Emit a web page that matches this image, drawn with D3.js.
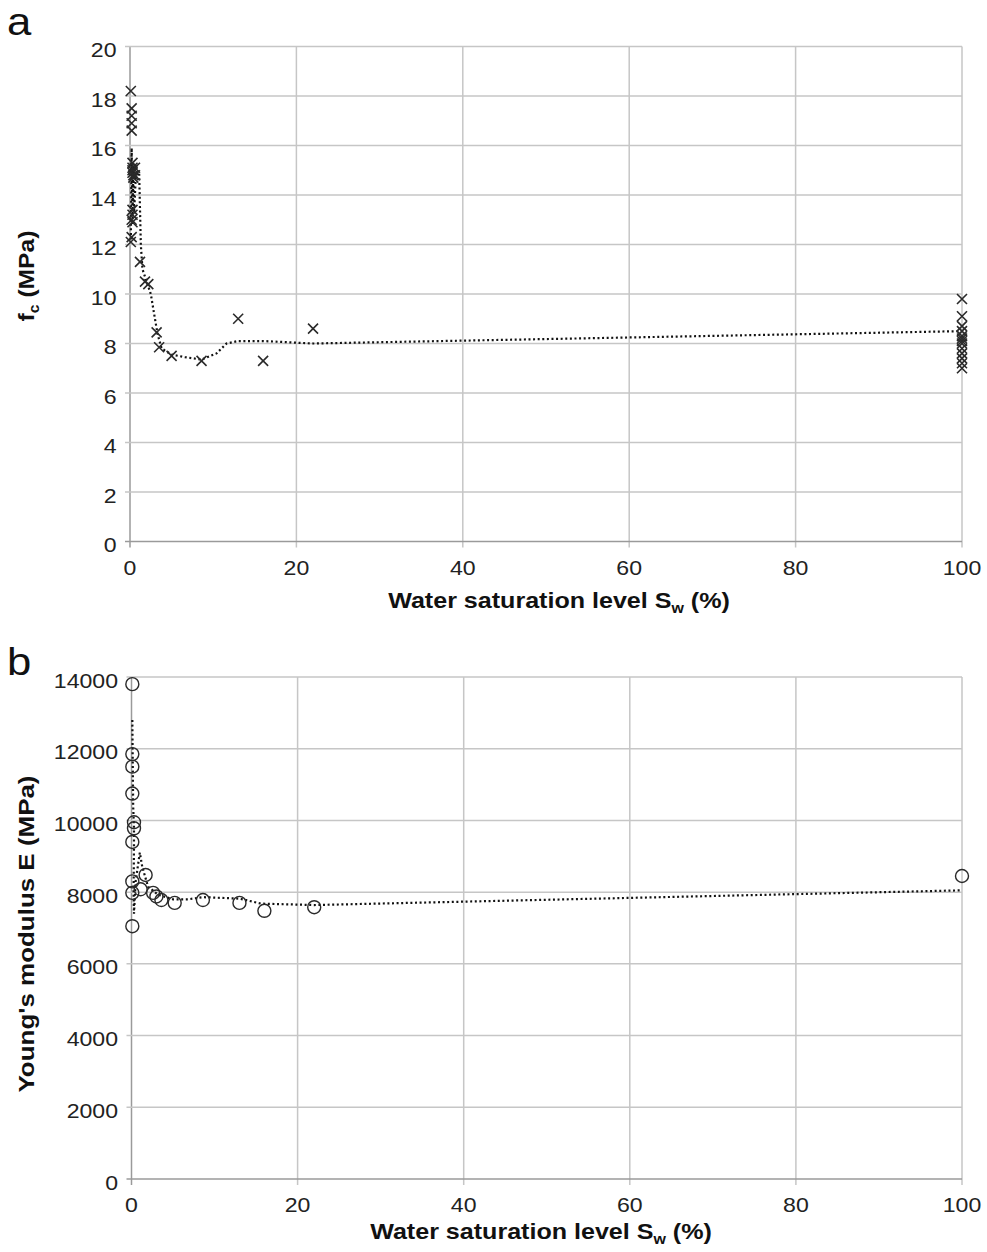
<!DOCTYPE html>
<html><head><meta charset="utf-8">
<script src="https://cdn.jsdelivr.net/npm/d3@7"></script>
<style>
html,body{margin:0;padding:0;background:#fff;}
svg{display:block;font-family:"Liberation Sans",Arial,sans-serif;}
</style></head>
<body>
<svg id="chart" width="987" height="1252"></svg>
<script>
// ---------- Data ----------
const xTicks = [0, 20, 40, 60, 80, 100];
const yTicksA = [0, 2, 4, 6, 8, 10, 12, 14, 16, 18, 20];
const yTicksB = [0, 2000, 4000, 6000, 8000, 10000, 12000, 14000];

// Panel a: compressive strength fc (MPa) vs water saturation Sw (%)
const swA = [0.1, 0.2, 0.2, 0.2, 0.2, 0.3, 0.3, 0.3, 0.3, 0.4, 0.4, 0.6, 0.6, 0.3, 0.3, 0.2, 0.3, 0.2, 0.1,
             1.2, 1.8, 2.2, 3.2, 3.5, 5.0, 8.6, 13.0, 16.0, 22.0,
             100, 100, 100, 100, 100, 100, 100, 100, 100, 100, 100, 100, 100];
const fcA = [18.2, 17.5, 17.2, 16.9, 16.6, 15.3, 15.1, 15.0, 14.9, 14.8, 14.7, 15.1, 14.8, 13.4, 13.2, 13.0, 12.9, 12.3, 12.1,
             11.3, 10.5, 10.4, 8.45, 7.85, 7.5, 7.3, 9.0, 7.3, 8.6,
             9.8, 9.1, 8.7, 8.5, 8.3, 8.2, 8.1, 8.0, 7.8, 7.6, 7.4, 7.2, 7.0];
// Trend line (dotted) of panel a
const trendSwA = [0.1, 0.2, 0.3, 0.4, 0.5, 0.7, 1.1, 1.3, 1.5, 1.9, 2.5, 3.0, 3.3, 3.8, 5.0, 6.6, 8.6, 10.4, 11.6, 13.0, 16.0, 22.0, 100];
const trendFcA = [12.2, 15.9, 12.8, 15.3, 13.3, 14.8, 14.9, 12.0, 11.0, 10.6, 10.0, 9.0, 8.4, 7.8, 7.55, 7.45, 7.35, 7.6, 8.0, 8.1, 8.1, 8.0, 8.5];

// Panel b: Young's modulus E (MPa) vs water saturation Sw (%)
const swB = [0.1, 0.1, 0.1, 0.1, 0.3, 0.3, 0.1, 0.1, 0.1, 0.1, 1.1, 1.7, 2.6, 3.0, 3.6, 5.2, 8.6, 13.0, 16.0, 22.0, 100];
const eB  = [13800, 11850, 11500, 10750, 9950, 9780, 9400, 8300, 7980, 7050, 8080, 8480, 7980, 7880, 7780, 7700, 7780, 7700, 7480, 7580, 8450];
// Trend line (dotted) of panel b
const trendSwB = [0.1, 0.15, 0.2, 0.3, 0.3, 0.25, 0.3, 0.5, 1.0, 1.3, 2.0, 3.2, 5.0, 6.8, 8.6, 13.0, 15.6, 22.0, 100];
const trendEB  = [12800, 11600, 10400, 9800, 9300, 8000, 7400, 8300, 9100, 8700, 8150, 7930, 7800, 7800, 7860, 7820, 7680, 7640, 8050];

// ---------- Drawing ----------
const svg = d3.select("#chart");
const gridColor = "#c6c6c6";
const axisColor = "#9a9a9a";
const tickFont = 21;
const tickStretch = 1.1;
const titleStretch = 1.14;

function panel(cfg) {
  const x = d3.scaleLinear().domain([0, 100]).range([cfg.left, cfg.right]);
  const y = d3.scaleLinear().domain(cfg.yDomain).range([cfg.bottom, cfg.top]);
  const g = svg.append("g");

  // vertical gridlines (with tick below axis)
  g.selectAll(".vg").data(xTicks).enter().append("line")
    .attr("x1", d => x(d)).attr("x2", d => x(d))
    .attr("y1", cfg.top).attr("y2", cfg.bottom + 6)
    .attr("stroke", d => d === 0 ? axisColor : gridColor).attr("stroke-width", 1.5);
  // horizontal gridlines (with tick left of axis)
  g.selectAll(".hg").data(cfg.yTicks).enter().append("line")
    .attr("x1", cfg.left - 5).attr("x2", cfg.right)
    .attr("y1", d => y(d)).attr("y2", d => y(d))
    .attr("stroke", d => d === 0 ? axisColor : gridColor).attr("stroke-width", 1.5);

  // tick labels
  g.selectAll(".yl").data(cfg.yTicks).enter().append("text")
    .attr("transform", d => `translate(${cfg.left - 13.5},${y(d) + 3}) scale(${tickStretch},1)`)
    .attr("dy", "0.36em").attr("text-anchor", "end")
    .attr("font-size", tickFont).attr("fill", "#222")
    .text(d => d);
  g.selectAll(".xl").data(xTicks).enter().append("text")
    .attr("transform", d => `translate(${x(d)},${cfg.bottom + cfg.xTickOff}) scale(${tickStretch},1)`)
    .attr("text-anchor", "middle")
    .attr("font-size", tickFont).attr("fill", "#222")
    .text(d => d);

  // x axis title
  const xt = g.append("text")
    .attr("transform", `translate(${cfg.xTitleX},${cfg.bottom + cfg.xTitleOff}) scale(${titleStretch},1)`)
    .attr("text-anchor", "middle").attr("font-size", 22).attr("font-weight", "bold").attr("fill", "#111");
  xt.append("tspan").text("Water saturation level S");
  xt.append("tspan").attr("font-size", 14).attr("dy", 5).text("w");
  xt.append("tspan").attr("dy", -5).text(" (%)");

  // y axis title
  const yt = g.append("text")
    .attr("transform", `translate(${cfg.yTitleX},${cfg.yTitleY}) rotate(-90) scale(${cfg.yStretch},1)`)
    .attr("text-anchor", "middle").attr("font-size", 22).attr("font-weight", "bold").attr("fill", "#111");
  cfg.yTitle(yt);

  // panel letter
  g.append("text").attr("transform", `translate(7,${cfg.letterY}) scale(1.15,1)`)
    .attr("font-size", 38).attr("fill", "#111").text(cfg.letter);

  // trend line
  const line = d3.line().x(d => x(d[0])).y(d => y(d[1]));
  g.append("path")
    .datum(d3.zip(cfg.tx, cfg.ty))
    .attr("d", line)
    .attr("fill", "none").attr("stroke", "#111")
    .attr("stroke-width", 2.2).attr("stroke-dasharray", "2,2.6");

  return {x, y, g};
}

// Panel a
const pa = panel({
  left: 130, right: 962, top: 46.5, bottom: 541.5,
  yDomain: [0, 20], yTicks: yTicksA, letter: "a", letterY: 35,
  xTickOff: 33.5, xTitleOff: 66, xTitleX: 559,
  yTitleX: 34, yTitleY: 276, yStretch: 1.12,
  tx: trendSwA, ty: trendFcA,
  yTitle: t => {
    t.append("tspan").text("f");
    t.append("tspan").attr("font-size", 14).attr("dy", 5).text("c");
    t.append("tspan").attr("dy", -5).text(" (MPa)");
  }
});
const s = 5;
pa.g.selectAll(".xm").data(d3.zip(swA, fcA)).enter().append("path")
  .attr("d", d => {
    const cx = pa.x(d[0]), cy = pa.y(d[1]);
    return `M${cx - s},${cy - s}L${cx + s},${cy + s}M${cx - s},${cy + s}L${cx + s},${cy - s}`;
  })
  .attr("fill", "none").attr("stroke", "#2a2a2a").attr("stroke-width", 1.6);

// Panel b
const pb = panel({
  left: 131.5, right: 962, top: 677, bottom: 1179,
  yDomain: [0, 14000], yTicks: yTicksB, letter: "b", letterY: 675,
  xTickOff: 33, xTitleOff: 60, xTitleX: 541,
  yTitleX: 34, yTitleY: 934, yStretch: 1.18,
  tx: trendSwB, ty: trendEB,
  yTitle: t => { t.text("Young's modulus E (MPa)"); }
});
pb.g.selectAll(".cm").data(d3.zip(swB, eB)).enter().append("circle")
  .attr("cx", d => pb.x(d[0])).attr("cy", d => pb.y(d[1])).attr("r", 6.5)
  .attr("fill", "none").attr("stroke", "#2a2a2a").attr("stroke-width", 1.4);
</script>
</body></html>
